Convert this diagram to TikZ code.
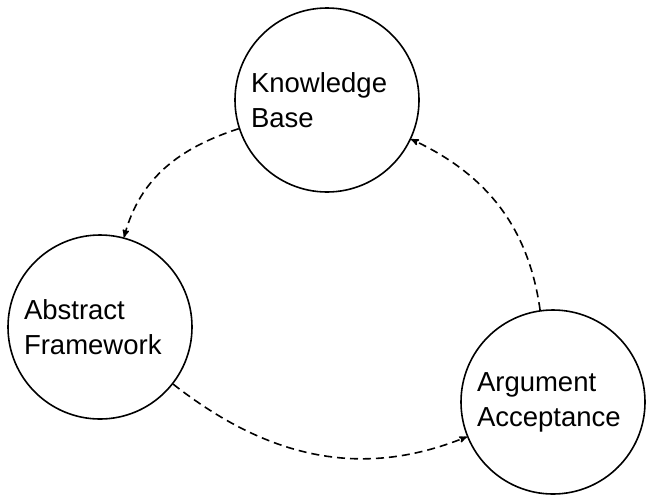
\documentclass[tikz,border=0pt]{standalone}
\usepackage{fontspec}
\setmainfont{Liberation Sans}
\usepackage{tikz}
\usetikzlibrary{arrows,positioning}

\begin{document}
\begin{tikzpicture}[->,>=stealth',auto,on grid,
    stage/.style={circle,draw,line width=1.6pt,minimum size=184pt,inner sep=0pt,
      text width=152pt,align=left,font=\fontsize{27.5pt}{35pt}\selectfont},
    flow/.style={dashed,line width=1.6pt,dash pattern=on 8pt off 5pt}]

  \useasboundingbox (0pt,0pt) rectangle (647pt,-496pt);

  \node[stage] (KB) at (327pt,-100pt) {Knowledge\\Base};
  \node[stage] (AF) [below left=227pt and 227pt of KB] {Abstract\\Framework};
  \node[stage] (AA) [below right=302pt and 226pt of KB] {Argument\\Acceptance};

  \path[flow]
      (KB) edge [out=198,in=75] (AF)
      (AF) edge [out=322,in=202] (AA)
      (AA) edge [out=98,in=335] (KB);

\end{tikzpicture}
\end{document}
